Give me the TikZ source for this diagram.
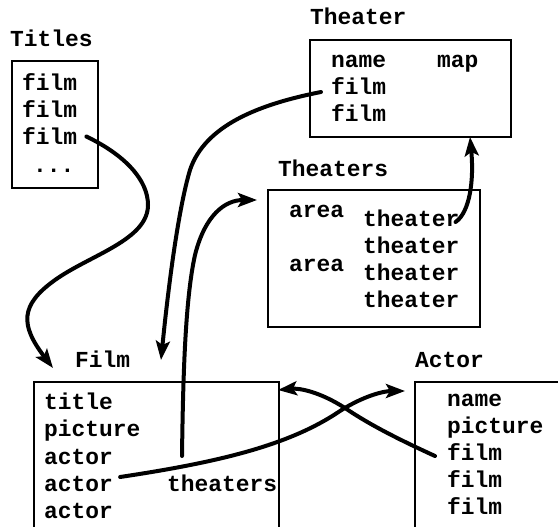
\documentclass[tikz,border=0pt]{standalone}
\usepackage{fontspec}
\setmainfont{Liberation Mono}
\usetikzlibrary{arrows.meta}
\begin{document}
\begin{tikzpicture}[x=1pt,y=-1pt,
  txt/.style={anchor=base west, inner sep=0pt, font=\fontsize{22.9}{27}\selectfont\bfseries},
  boxr/.style={draw, line width=1.8pt, anchor=north west, inner sep=0pt},
  link/.style={line width=4pt, line cap=round},
  arr/.style={link, -{Stealth[length=19pt,width=14pt,inset=4pt]}}]
\useasboundingbox (0,0) rectangle (558,527);
\clip (0,0) rectangle (558,527);

% boxes
\node[boxr, minimum width=86pt, minimum height=127pt] (titlesbox) at (11,60) {};
\node[boxr, minimum width=201pt, minimum height=97pt] (theaterbox) at (309,39) {};
\node[boxr, minimum width=212pt, minimum height=137pt] (theatersbox) at (267,189) {};
\node[boxr, minimum width=245pt, minimum height=170pt] (filmbox) at (33,381) {};
\node[boxr, minimum width=170pt, minimum height=170pt] (actorbox) at (414,381) {};

% labels
\node[txt] (titleslbl) at (10,47) {Titles};
\node[txt] (theaterlbl) at (310,25) {Theater};
\node[txt] (theaterslbl) at (278,177) {Theaters};
\node[txt] (filmlbl) at (75,367) {Film};
\node[txt] (actorlbl) at (415,367) {Actor};

% Titles rows
\node[txt] (tf1) at (22,91) {film};
\node[txt] (tf2) at (22,118) {film};
\node[txt] (tf3) at (22,145) {film};
\node[txt] (tdots) at (33,172) {...};

% Theater rows
\node[txt] (thname) at (331,68) {name};
\node[txt] (thmap) at (437,68) {map};
\node[txt] (thf1) at (331,95) {film};
\node[txt] (thf2) at (331,122) {film};

% Theaters rows
\node[txt] (ta1) at (289,218) {area};
\node[txt] (ta2) at (289,271) {area};
\node[txt] (tt1) at (363,226) {theater};
\node[txt] (tt2) at (363,253) {theater};
\node[txt] (tt3) at (363,280) {theater};
\node[txt] (tt4) at (363,307) {theater};

% Film rows
\node[txt] (ftitle) at (44,409) {title};
\node[txt] (fpic) at (44,436) {picture};
\node[txt] (fa1) at (44,464) {actor};
\node[txt] (fa2) at (44,491) {actor};
\node[txt] (fa3) at (44,518) {actor};
\node[txt] (fth) at (167,491) {theaters};

% Actor rows
\node[txt] (aname) at (447,406) {name};
\node[txt] (apic) at (447,433) {picture};
\node[txt] (af1) at (447,460) {film};
\node[txt] (af2) at (447,487) {film};
\node[txt] (af3) at (447,514) {film};

% arrow tips
\coordinate (tip1) at (53,368);
\coordinate (tip2) at (161,360);
\coordinate (tip3) at (257,200);
\coordinate (tip4) at (470,137);
\coordinate (tip5) at (405,391);
\coordinate (tip6) at (278,390);

% connectors
\draw[arr] ([xshift=9pt]tf3.east) .. controls (125,155) and (148,180) .. (148,205)
  .. controls (148,240) and (90,255) .. (55,280)
  .. controls (20,305) and (20,325) .. (tip1);
\draw[arr] ([shift={(-10pt,3pt)}]thf1.base west) .. controls (260,104) and (205,125) .. (190,170)
  .. controls (178,210) and (168,290) .. (tip2);
\draw[arr] ([shift={(15pt,35pt)}]fth.base west) .. controls (183,380) and (185,300) .. (195,255)
  .. controls (205,215) and (225,200) .. (tip3);
\draw[arr] ([shift={(-4pt,4pt)}]tt1.base east) .. controls (470,212) and (474,180) .. (tip4);
\draw[arr] ([shift={(7pt,14pt)}]fa2.base east) .. controls (220,462) and (290,445) .. (340,411)
  .. controls (365,395) and (385,391) .. (tip5);
\draw[arr] ([shift={(-12pt,4pt)}]af1.base west) .. controls (400,440) and (370,425) .. (345,408)
  .. controls (320,392) and (300,388) .. (tip6);
\end{tikzpicture}
\end{document}
